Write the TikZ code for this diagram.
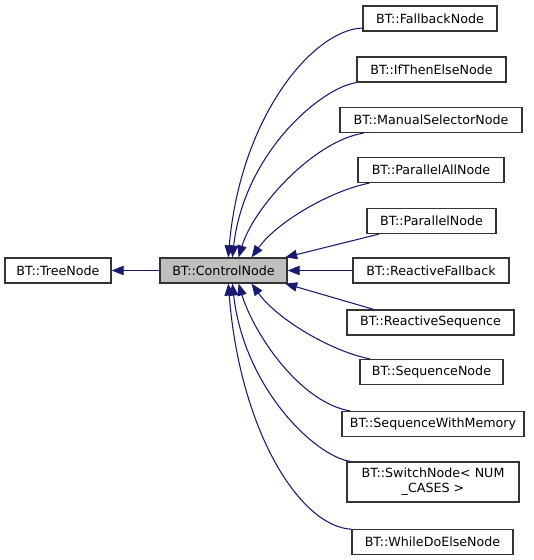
\documentclass[tikz,border=0pt]{standalone}
\usepackage{fontspec}
\setmainfont{DejaVu Sans}
\usetikzlibrary{arrows.meta}

\definecolor{edgeblue}{HTML}{191970}
\definecolor{boxgray}{HTML}{BFBFBF}

\tikzset{
  cls/.style={draw=black!80, line width=0.9pt, fill=white, inner sep=1pt, minimum height=18.75pt,
    font=\fontsize{9.5}{11.5}\selectfont, align=center},
  inh/.style={draw=edgeblue, line width=0.8pt, -{Triangle[length=9pt,width=7pt]}}
}

\begin{document}
\begin{tikzpicture}[x=0.75pt, y=0.75pt]
		\useasboundingbox (0,0) rectangle (533,-560);
		
		% Draw the base classes
		\node[cls, minimum width=79.5pt] (tree) at (58,-270.5) {BT::TreeNode};
		\node[cls, fill=boxgray, minimum width=95.25pt] (ctrl) at (223.5,-270.5) {BT::ControlNode};
		
		% Draw the derived classes
		\node[cls, minimum width=100.5pt] (fallback) at (430,-18.5) {BT::FallbackNode};
		\node[cls, minimum width=111.75pt] (ifelse) at (431.5,-69.5) {BT::IfThenElseNode};
		\node[cls, minimum width=136.5pt] (manual) at (431,-120) {BT::ManualSelectorNode};
		\node[cls, minimum width=109.5pt] (parallelall) at (431,-170) {BT::ParallelAllNode};
		\node[cls, minimum width=96.75pt] (parallel) at (431.5,-221) {BT::ParallelNode};
		\node[cls, minimum width=117pt] (rfallback) at (431,-270.5) {BT::ReactiveFallback};
		\node[cls, minimum width=125.25pt] (rsequence) at (430.5,-322.5) {BT::ReactiveSequence};
		\node[cls, minimum width=107.25pt] (sequence) at (431.5,-372) {BT::SequenceNode};
		\node[cls, minimum width=136.5pt] (seqmem) at (433,-424) {BT::SequenceWithMemory};
		\node[cls, minimum width=129pt, minimum height=30pt] (switch) at (433,-482) {BT::SwitchNode< NUM\\\_CASES >};
		\node[cls, minimum width=120.75pt] (whiledo) at (432.5,-542) {BT::WhileDoElseNode};
		
		% Draw the inheritance edges
		\draw[inh] (ctrl.west) -- (tree.east);
		
		\draw[inh] (fallback.188) .. controls +(-50,-2) and +(12,140) .. (ctrl.70);
		\draw[inh] (ifelse.south west) .. controls +(-35,-5) and +(12,105) .. (ctrl.56);
		\draw[inh] (manual.191) .. controls +(-50,-8) and +(15,50) .. (ctrl.41);
		\draw[inh] (parallelall.192) .. controls +(-40,-8) and +(25,35) .. (ctrl.25);
		\draw[inh] (parallel.194) -- (ctrl.12.5);
		\draw[inh] (rfallback.west) -- (ctrl.east);
		\draw[inh] (rsequence.167) -- (ctrl.-12.5);
		\draw[inh] (sequence.168) .. controls +(-40,8) and +(25,-35) .. (ctrl.-25);
		\draw[inh] (seqmem.171) .. controls +(-50,8) and +(15,-50) .. (ctrl.-41);
		\draw[inh] (switch.166) .. controls +(-35,5) and +(12,-105) .. (ctrl.-56);
		\draw[inh] (whiledo.171) .. controls +(-50,2) and +(12,-150) .. (ctrl.-70);
	\end{tikzpicture}
\end{document}
